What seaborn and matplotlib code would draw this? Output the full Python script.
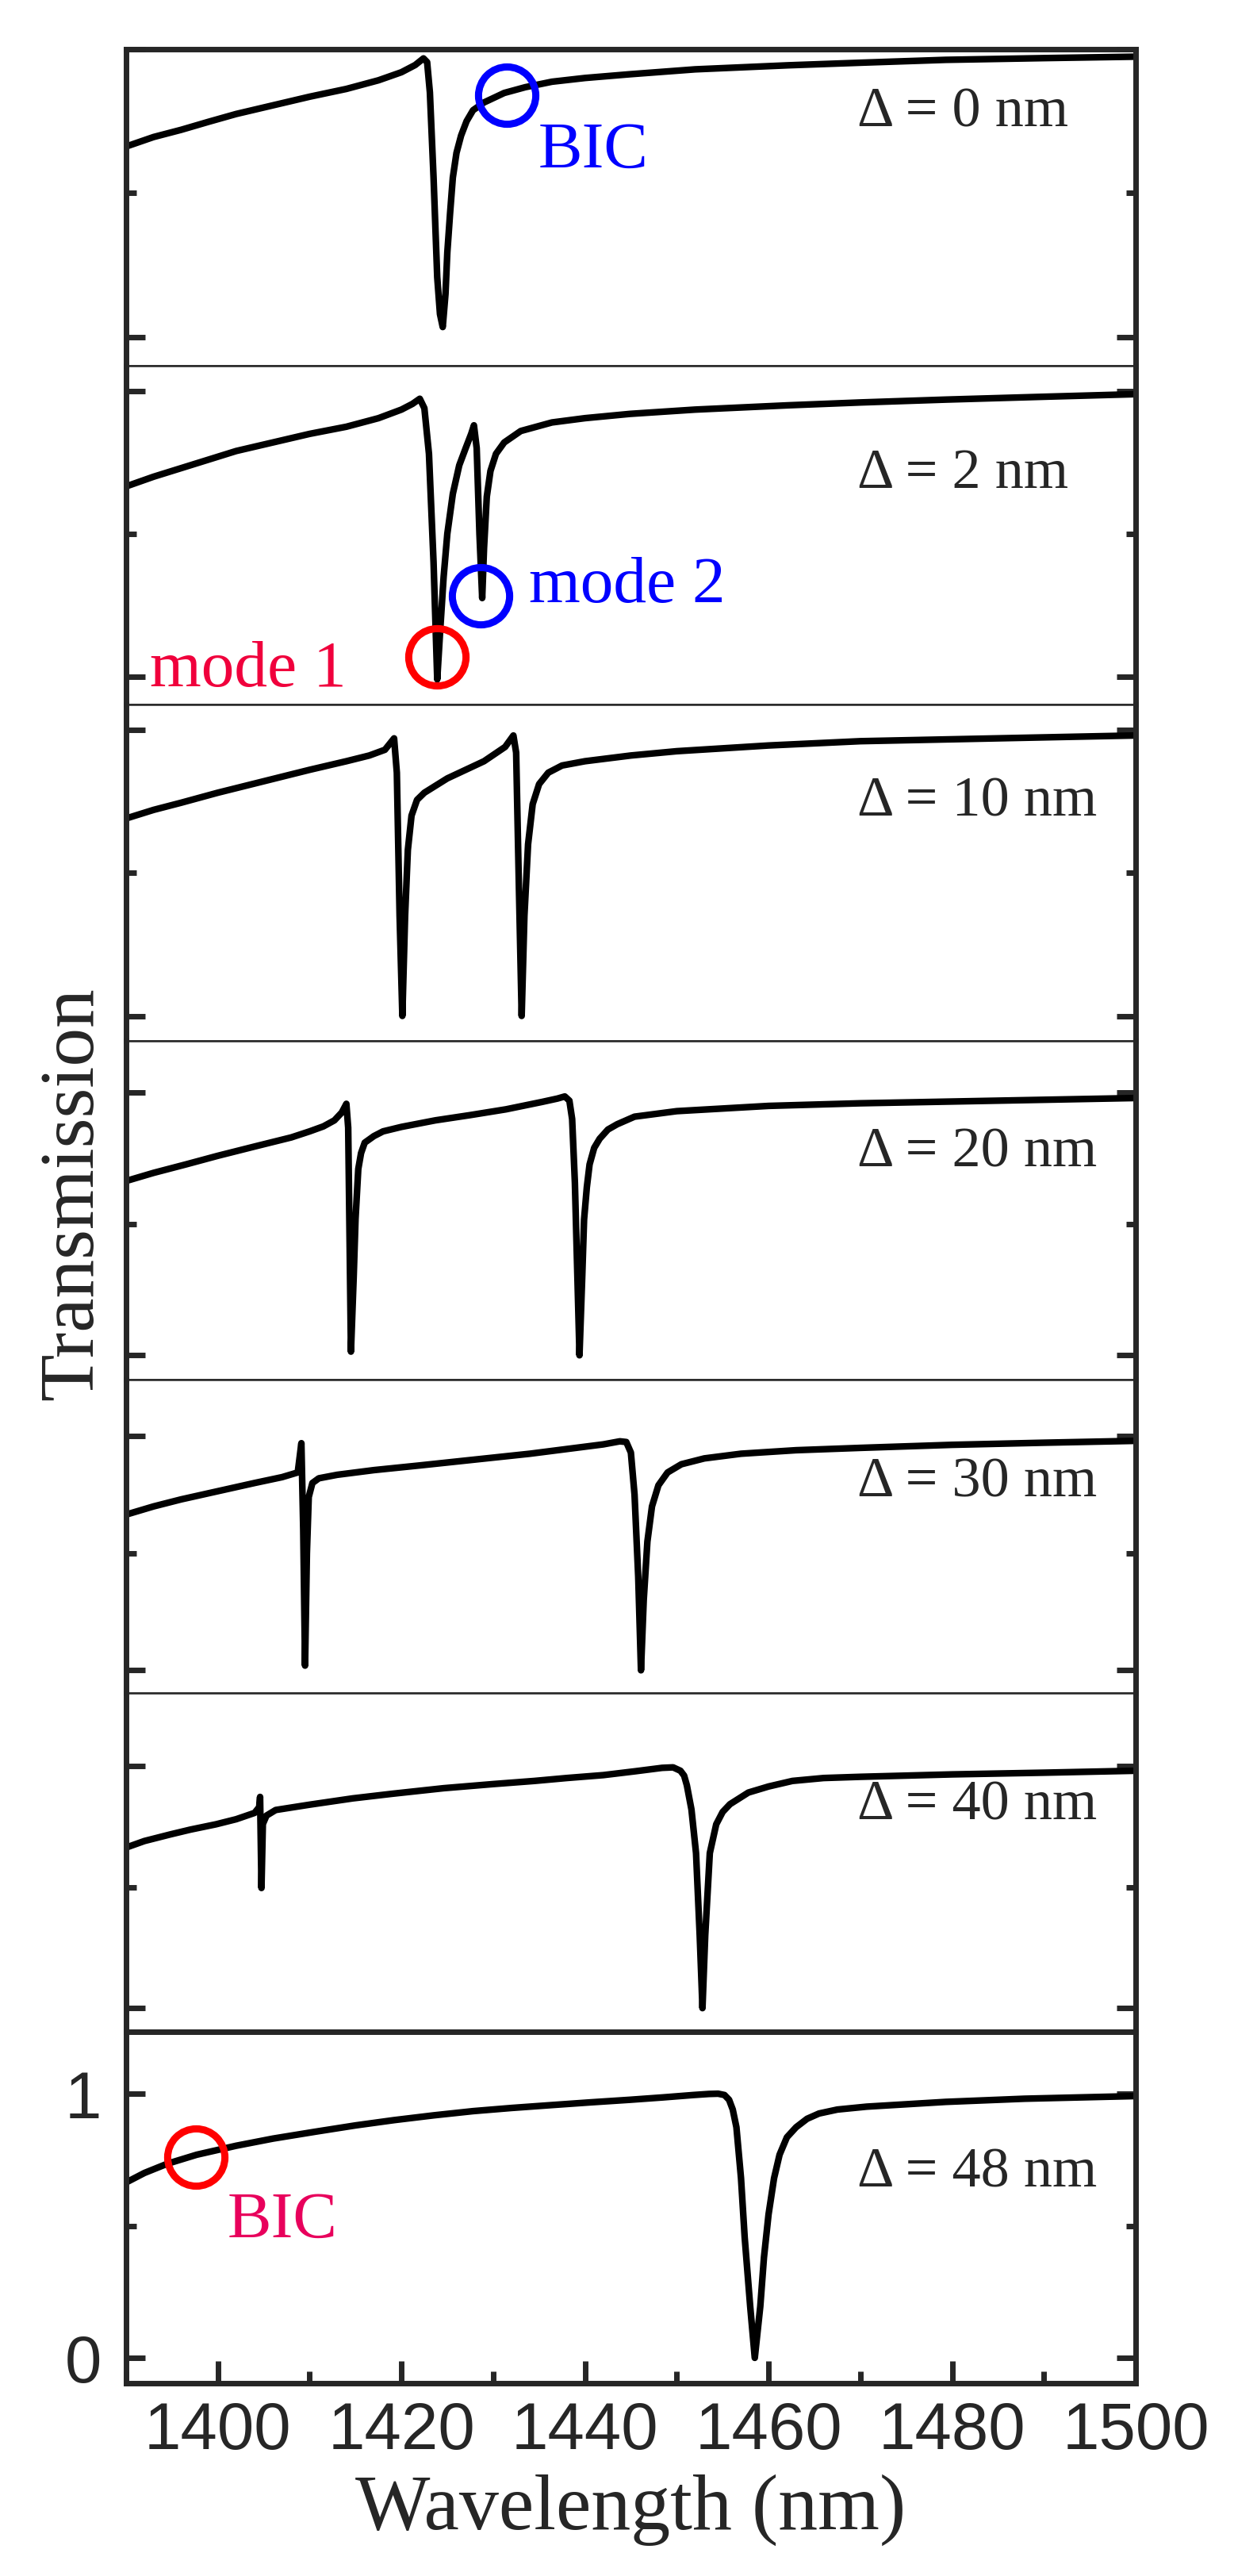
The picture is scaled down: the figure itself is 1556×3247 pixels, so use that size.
import matplotlib
matplotlib.use("Agg")
from matplotlib import pyplot as plt
from matplotlib.ticker import MultipleLocator, NullFormatter
import seaborn as sns

# transmission spectra (wavelength in nm, transmission)
wl_0 = [1390, 1393, 1396, 1399, 1402, 1406, 1410, 1414, 1417.5, 1420, 1421.5, 1422.4,
        1422.8, 1423.1, 1423.5, 1423.9, 1424.2, 1424.5, 1424.8, 1425.0, 1425.3, 1425.6,
        1426.0, 1426.5, 1427.1, 1427.8, 1429.0, 1431.2, 1433.5, 1436.4, 1440, 1444.9,
        1452, 1462.1, 1470, 1479.3, 1490, 1500]
tr_0 = [0.662, 0.695, 0.72, 0.748, 0.775, 0.805, 0.835, 0.862, 0.892, 0.92, 0.945, 0.968,
        0.955, 0.85, 0.554, 0.208, 0.08, 0.035, 0.15, 0.294, 0.43, 0.554,
        0.64, 0.70, 0.75, 0.788, 0.815, 0.848, 0.868, 0.887, 0.90, 0.913,
        0.93, 0.944, 0.953, 0.963, 0.969, 0.974]

wl_2 = [1390, 1393, 1396, 1399, 1402, 1406, 1410, 1414, 1417.5, 1420, 1421.2, 1422.0,
        1422.5, 1423.0, 1423.5, 1423.9, 1424.2, 1424.6, 1425.0, 1425.6, 1426.3, 1427.0,
        1427.6, 1427.9, 1428.2, 1428.5, 1428.8, 1429.0, 1429.3, 1429.7, 1430.3, 1431.2,
        1433, 1436.4, 1440, 1444.9, 1452, 1462.1, 1470, 1479.3, 1490, 1500]
tr_2 = [0.666, 0.70, 0.73, 0.76, 0.79, 0.82, 0.85, 0.875, 0.905, 0.935, 0.955, 0.973,
        0.94, 0.78, 0.40, -0.01, 0.15, 0.35, 0.50, 0.64, 0.74, 0.80,
        0.85, 0.88, 0.80, 0.50, 0.275, 0.45, 0.63, 0.72, 0.78, 0.82,
        0.86, 0.89, 0.905, 0.92, 0.935, 0.95, 0.96, 0.97, 0.98, 0.989]

wl_10 = [1390, 1393, 1396, 1400, 1405, 1410, 1414, 1416.5, 1418.2, 1419.2, 1419.5, 1419.8,
         1420.1, 1420.4, 1420.7, 1421.1, 1421.7, 1422.5, 1425.0, 1429.0, 1431.3, 1432.2,
         1432.5, 1432.8, 1433.1, 1433.4, 1433.8, 1434.3, 1435.0, 1436.0, 1437.5, 1440.0,
         1445, 1450.0, 1460, 1470.0, 1485, 1500]
tr_10 = [0.69, 0.72, 0.745, 0.78, 0.82, 0.86, 0.89, 0.91, 0.93, 0.97, 0.85, 0.35,
         0.0, 0.35, 0.58, 0.70, 0.755, 0.78, 0.83, 0.89, 0.94, 0.98,
         0.92, 0.45, 0.0, 0.35, 0.60, 0.74, 0.81, 0.85, 0.875, 0.89,
         0.91, 0.925, 0.945, 0.96, 0.97, 0.98]

wl_20 = [1390, 1393, 1396.5, 1400, 1404.2, 1408, 1410.0, 1411.5, 1412.7, 1413.5, 1414.0,
         1414.2, 1414.5, 1414.8, 1415.0, 1415.3, 1415.6, 1416.0, 1417, 1418.0, 1420, 1423.7,
         1427.5, 1431.4, 1435.3, 1437.0, 1437.8, 1438.3, 1438.6, 1438.9, 1439.4, 1439.7,
         1439.9, 1440.2, 1440.5, 1441.0, 1441.6, 1442.5, 1443.5, 1445.4, 1450, 1455, 1460,
         1470, 1485, 1500]
tr_20 = [0.664, 0.695, 0.727, 0.76, 0.797, 0.83, 0.853, 0.872, 0.895, 0.925, 0.958,
         0.867, 0.014, 0.30, 0.52, 0.71, 0.77, 0.81, 0.835, 0.853, 0.87, 0.895,
         0.915, 0.937, 0.965, 0.978, 0.986, 0.97, 0.90, 0.657, 0.0, 0.30,
         0.517, 0.64, 0.727, 0.79, 0.825, 0.86, 0.88, 0.909, 0.93, 0.94, 0.95,
         0.96, 0.97, 0.98]

wl_30 = [1390, 1393, 1396, 1400, 1404, 1407, 1408.7, 1409.1, 1409.3, 1409.5, 1409.7,
         1409.9, 1410.3, 1411, 1413, 1417, 1422, 1428, 1434, 1439, 1442, 1443.8, 1444.5,
         1445.0, 1445.4, 1445.8, 1446.1, 1446.4, 1446.8, 1447.3, 1448, 1449, 1450.5,
         1453, 1457, 1463, 1470, 1480, 1490, 1500]
tr_30 = [0.665, 0.70, 0.73, 0.765, 0.80, 0.825, 0.845, 0.97, 0.60, 0.02, 0.50,
         0.74, 0.80, 0.82, 0.835, 0.855, 0.875, 0.90, 0.925, 0.95, 0.965, 0.978, 0.975,
         0.93, 0.75, 0.40, 0.0, 0.30, 0.55, 0.70, 0.79, 0.845, 0.88,
         0.905, 0.925, 0.94, 0.95, 0.963, 0.972, 0.98]

wl_40 = [1390, 1392, 1394.8, 1397, 1399.8, 1402, 1404.0, 1404.5, 1404.6, 1404.75, 1404.9,
         1405.3, 1406.3, 1410, 1414.7, 1419, 1424.6, 1430, 1434.5, 1438, 1442.0, 1445.5,
         1448.4, 1449.6, 1450.4, 1450.8, 1451.1, 1451.6, 1452.1, 1452.5, 1452.8, 1453.1,
         1453.6, 1454.3, 1455.0, 1455.8, 1457.8, 1460, 1462.6, 1466, 1470, 1480, 1490, 1500]
tr_40 = [0.663, 0.69, 0.717, 0.737, 0.759, 0.78, 0.806, 0.83, 0.872, 0.496, 0.76,
         0.795, 0.818, 0.84, 0.866, 0.885, 0.908, 0.925, 0.938, 0.95, 0.962, 0.978,
         0.992, 0.994, 0.98, 0.96, 0.92, 0.82, 0.64, 0.30, 0.0, 0.30,
         0.64, 0.759, 0.81, 0.842, 0.89, 0.915, 0.938, 0.95, 0.955, 0.965, 0.972, 0.98]

wl_48 = [1390, 1392, 1394.5, 1397.7, 1402.0, 1406, 1410.6, 1415, 1419.2, 1423.5, 1427.8,
         1432, 1436.4, 1440.5, 1444.9, 1448.5, 1451.8, 1453.5, 1454.5, 1455.2, 1455.7,
         1456.1, 1456.5, 1457.0, 1457.4, 1458.0, 1458.5, 1459.1, 1459.5, 1460.0, 1460.6,
         1461.2, 1462.0, 1463.0, 1464.2, 1465.5, 1467.5, 1470.7, 1475, 1479.3, 1487.9, 1500]
tr_48 = [0.664, 0.70, 0.735, 0.769, 0.803, 0.83, 0.856, 0.88, 0.90, 0.918, 0.934,
         0.946, 0.957, 0.967, 0.977, 0.986, 0.995, 0.999, 1.0, 0.995, 0.977,
         0.94, 0.873, 0.68, 0.456, 0.195, 0.0, 0.195, 0.38, 0.543, 0.68,
         0.769, 0.835, 0.873, 0.905, 0.925, 0.94, 0.951, 0.96, 0.969, 0.981, 0.991]

spectra = [(wl_0, tr_0), (wl_2, tr_2), (wl_10, tr_10), (wl_20, tr_20),
           (wl_30, tr_30), (wl_40, tr_40), (wl_48, tr_48)]
deltas = ["Δ = 0 nm", "Δ = 2 nm", "Δ = 10 nm", "Δ = 20 nm",
          "Δ = 30 nm", "Δ = 40 nm", "Δ = 48 nm"]
y_limits = [(-0.099, 1.0), (-0.097, 1.089), (-0.086, 1.089), (-0.094, 1.199),
            (-0.098, 1.24), (-0.098, 1.30), (-0.096, 1.234)]
delta_y = [0.73, 0.661, 0.70, 0.72, 0.74, 0.78, 0.647]
x_ticks = [1400, 1420, 1440, 1460, 1480, 1500]

sns.set_style("ticks")
plt.rcParams["font.family"] = ["Liberation Serif", "DejaVu Serif"]
plt.rcParams["xtick.direction"] = "in"
plt.rcParams["ytick.direction"] = "in"

fig, axes = plt.subplots(7, 1, sharex=True, figsize=(15.56, 32.47), dpi=100,
                         gridspec_kw=dict(height_ratios=[399, 427, 424, 428, 395, 427, 443],
                                          hspace=0))
fig.subplots_adjust(left=159 / 1556, right=1432 / 1556, top=1 - 62 / 3247, bottom=1 - 3004 / 3247)

sans = ["Liberation Sans Narrow", "Liberation Sans"]

for i, ax in enumerate(axes):
    wl, tr = spectra[i]
    sns.lineplot(x=wl, y=tr, ax=ax, color="black", linewidth=6, estimator=None, sort=False)
    ax.lines[-1].set_solid_joinstyle("round")
    ax.set_xlim(1390, 1500)
    ax.set_ylim(*y_limits[i])
    ax.yaxis.set_major_locator(MultipleLocator(1))
    ax.yaxis.set_minor_locator(MultipleLocator(0.5))
    ax.tick_params(axis="y", which="both", left=True, right=True, width=5)
    ax.tick_params(axis="y", which="major", length=17)
    ax.tick_params(axis="y", which="minor", length=9)
    for s in ["left", "right"]:
        ax.spines[s].set_linewidth(5)
    ax.spines["top"].set_linewidth(1.8)
    ax.spines["bottom"].set_linewidth(1.8)
    ax.set_xlabel("")
    ax.set_ylabel("")
    ax.text(1469.7, delta_y[i], deltas[i], fontsize=52, ha="left", va="baseline")
    if i < 6:
        ax.tick_params(axis="x", which="both", bottom=False, top=False, labelbottom=False)
        ax.yaxis.set_major_formatter(NullFormatter())

axes[0].spines["top"].set_linewidth(5)
axes[5].spines["bottom"].set_linewidth(5)
bot = axes[6]
bot.spines["top"].set_linewidth(5)
bot.spines["bottom"].set_linewidth(5)
bot.set_xticks(x_ticks)
bot.xaxis.set_minor_locator(MultipleLocator(10))
bot.tick_params(axis="x", which="both", bottom=True, top=False, width=5, pad=16)
bot.tick_params(axis="x", which="major", length=20)
bot.tick_params(axis="x", which="minor", length=11)
bot.tick_params(axis="y", which="major", pad=22)
for lab in bot.get_xticklabels() + bot.get_yticklabels():
    lab.set_family(sans)
    lab.set_fontsize(60)

# circles and annotations
ring = dict(marker="o", ms=52, mfc="none", mew=6.5, linestyle="none")
axes[0].plot([1431.5], [0.84], mec="#0000ff", **ring)
axes[0].text(1434.9, 0.589, "BIC", color="#0000ff", fontsize=60)
axes[1].plot([1423.9], [0.07], mec="#ff0000", **ring)
axes[1].plot([1428.6], [0.284], mec="#0000ff", **ring)
axes[1].text(1433.9, 0.26, "mode 2", color="#0000ff", fontsize=60)
axes[1].text(1392.6, -0.035, "mode 1", color="#f0003c", fontsize=60)
axes[6].plot([1397.6], [0.76], mec="#ff0000", **ring)
axes[6].text(1401.0, 0.456, "BIC", color="#e8005c", fontsize=60)

fig.text(93 / 1556, 1 - 1505 / 3247, "Transmission", rotation=90, ha="center", va="center", fontsize=70)
fig.text((159 + 1432) / 2 / 1556, 1 - 3188 / 3247, "Wavelength (nm)", ha="center", va="baseline", fontsize=72)

fig.savefig("out.png", dpi=100)
